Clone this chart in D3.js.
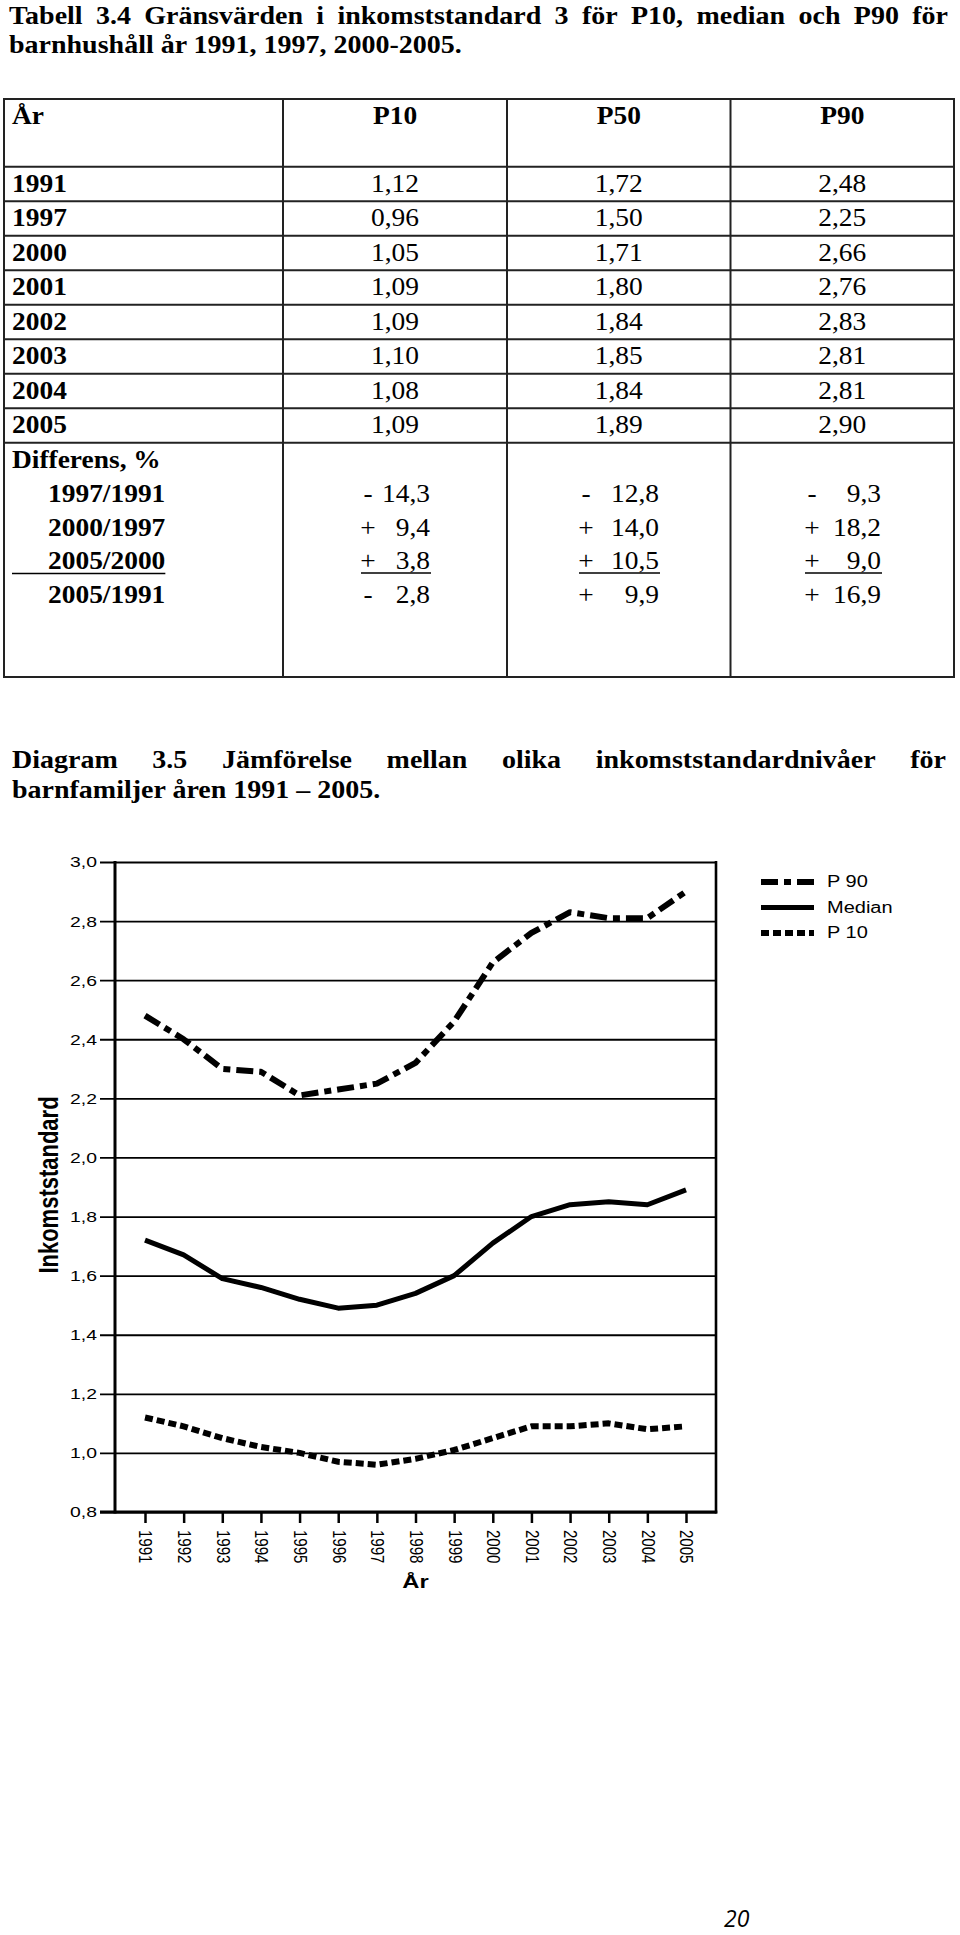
<!DOCTYPE html>
<html><head><meta charset="utf-8">
<script src="https://cdn.jsdelivr.net/npm/d3@7"></script>
<style>html,body{margin:0;padding:0;background:#fff}svg{display:block}</style>
</head><body>
<script>
// ---------- DATA ----------
const tableTitle1 = "Tabell 3.4 Gränsvärden i inkomststandard 3 för P10, median och P90 för";
const tableTitle2 = "barnhushåll år 1991, 1997, 2000-2005.";
const tableHeader = ["År", "P10", "P50", "P90"];
const tableYears = ["1991", "1997", "2000", "2001", "2002", "2003", "2004", "2005"];
const tableP10 = [1.12, 0.96, 1.05, 1.09, 1.09, 1.10, 1.08, 1.09];
const tableP50 = [1.72, 1.50, 1.71, 1.80, 1.84, 1.85, 1.84, 1.89];
const tableP90 = [2.48, 2.25, 2.66, 2.76, 2.83, 2.81, 2.81, 2.90];
const diffLabel = "Differens, %";
const diffPeriods = ["1997/1991", "2000/1997", "2005/2000", "2005/1991"];
const diffP10 = [-14.3, 9.4, 3.8, -2.8];
const diffP50 = [-12.8, 14.0, 10.5, 9.9];
const diffP90 = [-9.3, 18.2, 9.0, 16.9];

const chartTitle1 = "Diagram 3.5 Jämförelse mellan olika inkomststandardnivåer för";
const chartTitle2 = "barnfamiljer åren 1991 – 2005.";
const years = [1991, 1992, 1993, 1994, 1995, 1996, 1997, 1998, 1999, 2000, 2001, 2002, 2003, 2004, 2005];
const seriesP90 = [2.48, 2.40, 2.30, 2.29, 2.21, 2.23, 2.25, 2.32, 2.46, 2.66, 2.76, 2.83, 2.81, 2.81, 2.90];
const seriesMedian = [1.72, 1.67, 1.59, 1.56, 1.52, 1.49, 1.50, 1.54, 1.60, 1.71, 1.80, 1.84, 1.85, 1.84, 1.89];
const seriesP10 = [1.12, 1.09, 1.05, 1.02, 1.00, 0.97, 0.96, 0.98, 1.01, 1.05, 1.09, 1.09, 1.10, 1.08, 1.09];
const yTicks = [0.8, 1.0, 1.2, 1.4, 1.6, 1.8, 2.0, 2.2, 2.4, 2.6, 2.8, 3.0];
const legendLabels = ["P 90", "Median", "P 10"];
const yTitle = "Inkomststandard";
const xTitle = "År";
const pageNumber = "20";

// ---------- SETUP ----------
const W = 960, H = 1935;
const SERIF = "'Liberation Serif','Times New Roman',serif";
const SANS = "'Liberation Sans',Arial,sans-serif";
const SX_SERIF = 1.12, SX_SANS = 1.25;
const svg = d3.select("body").append("svg").attr("width", W).attr("height", H);

function addText(parent, x, y, str, o = {}) {
  const sx = o.sx || 1;
  const t = parent.append("text")
    .attr("transform", `translate(${x},${y}) scale(${sx},1)` + (o.rotate ? ` rotate(${o.rotate})` : ""))
    .attr("font-family", o.family || SERIF)
    .attr("font-size", o.size || 24)
    .attr("font-weight", o.weight || "normal")
    .attr("font-style", o.style || "normal")
    .attr("text-anchor", o.anchor || "start")
    .attr("fill", "#000");
  if (o.baseline) t.attr("dominant-baseline", o.baseline);
  t.text(str);
  return t;
}
function justify(parent, str, x0, x1, y, o) {
  const words = str.split(" ");
  const nodes = words.map(w => addText(parent, 0, y, w, o));
  const widths = nodes.map(n => n.node().getComputedTextLength() * o.sx);
  const gap = (x1 - x0 - d3.sum(widths)) / (words.length - 1);
  let x = x0;
  nodes.forEach((n, i) => { n.attr("transform", `translate(${x},${y}) scale(${o.sx},1)`); x += widths[i] + gap; });
}
const fmt2 = v => d3.format(".2f")(v).replace(".", ",");
const fmt1 = v => d3.format(".1f")(Math.abs(v)).replace(".", ",");

// ---------- TABLE TITLE ----------
const titleOpt = { family: SERIF, size: 25, weight: "bold", sx: SX_SERIF };
justify(svg, tableTitle1, 9, 948, 24, titleOpt);
addText(svg, 9, 53, tableTitle2, titleOpt);

// ---------- TABLE ----------
const tbl = svg.append("g");
const colEdges = [4, 283, 507, 730.5, 954];
const tableTop = 99, headBottom = 166.7, rowH = 34.5, tableBottom = 677;
const rowY = d3.scaleLinear().domain([0, tableYears.length]).range([headBottom, headBottom + rowH * tableYears.length]);
const colCenter = i => (colEdges[i] + colEdges[i + 1]) / 2;

const hLines = [tableTop].concat(d3.range(tableYears.length + 1).map(i => rowY(i)), [tableBottom]);
tbl.selectAll("line.h").data(hLines).join("line")
  .attr("x1", colEdges[0]).attr("x2", colEdges[colEdges.length - 1])
  .attr("y1", d => d).attr("y2", d => d)
  .attr("stroke", "#222").attr("stroke-width", 2);
tbl.selectAll("line.v").data(colEdges).join("line")
  .attr("x1", d => d).attr("x2", d => d)
  .attr("y1", tableTop - 1).attr("y2", tableBottom + 1)
  .attr("stroke", "#222").attr("stroke-width", 2);

const cellOpt = { family: SERIF, size: 24.5, sx: SX_SERIF };
const boldCell = Object.assign({}, cellOpt, { weight: "bold" });
tableHeader.forEach((h, i) => {
  if (i === 0) addText(tbl, 12, 124, h, boldCell);
  else addText(tbl, colCenter(i), 124, h, Object.assign({ anchor: "middle" }, boldCell));
});
tableYears.forEach((y, r) => {
  const by = rowY(r) + 25;
  addText(tbl, 12, by, y, boldCell);
  [tableP10, tableP50, tableP90].forEach((arr, c) => {
    addText(tbl, colCenter(c + 1), by, fmt2(arr[r]), Object.assign({ anchor: "middle" }, cellOpt));
  });
});
// Differens block
addText(tbl, 12, 468, diffLabel, boldCell);
const diffBase = i => 502 + i * 33.5;
const signX = [368, 586, 812];
const numEnd = [430, 659, 881];
diffPeriods.forEach((p, i) => {
  const by = diffBase(i);
  const lab = addText(tbl, 48, by, p, boldCell);
  if (i === 2) {
    const lw = lab.node().getComputedTextLength() * SX_SERIF;
    tbl.append("line").attr("x1", 12).attr("x2", 48 + lw).attr("y1", by + 4.5).attr("y2", by + 4.5)
      .attr("stroke", "#000").attr("stroke-width", 1.6);
  }
  [diffP10, diffP50, diffP90].forEach((arr, c) => {
    const v = arr[i];
    addText(tbl, signX[c], by, v < 0 ? "-" : "+", Object.assign({ anchor: "middle" }, cellOpt));
    addText(tbl, numEnd[c], by, fmt1(v), Object.assign({ anchor: "end" }, cellOpt));
    if (i === 2) {
      tbl.append("line").attr("x1", signX[c] - 7).attr("x2", numEnd[c] + 1)
        .attr("y1", by + 4).attr("y2", by + 4).attr("stroke", "#000").attr("stroke-width", 1.6);
    }
  });
});

// ---------- CHART TITLE ----------
justify(svg, chartTitle1, 12, 946, 768, titleOpt);
addText(svg, 12, 798, chartTitle2, titleOpt);

// ---------- CHART ----------
const plotL = 115, plotR = 716, plotT = 862, plotB = 1512;
const x = d3.scaleLinear().domain([years[0], years[years.length - 1]]).range([145, 686]);
const y = d3.scaleLinear().domain([0.8, 3.0]).range([plotB, plotT]);
const chart = svg.append("g");

// grid + y axis labels (axis placed on the right border, ticks spanning to the left of the y axis)
const yAxis = chart.append("g").attr("transform", `translate(${plotR},0)`)
  .call(d3.axisLeft(y).tickValues(yTicks).tickSize(plotR - 100).tickPadding(3)
    .tickFormat(d => d3.format(".1f")(d).replace(".", ",")));
yAxis.select(".domain").remove();
yAxis.selectAll(".tick line").attr("stroke", "#000").attr("stroke-width", 1.8);
yAxis.selectAll(".tick text")
  .attr("x", null)
  .attr("transform", `translate(${-(plotR - 100) - 3},0) scale(${SX_SANS},1)`)
  .attr("font-family", SANS).attr("font-size", 15.5).attr("fill", "#000");

// x axis ticks + labels
const xAxis = chart.append("g").attr("transform", `translate(0,${plotB})`)
  .call(d3.axisBottom(x).tickValues(years).tickSize(11).tickFormat(d => String(d)));
xAxis.select(".domain").remove();
xAxis.selectAll(".tick line").attr("stroke", "#000").attr("stroke-width", 2.5);
xAxis.selectAll(".tick text")
  .attr("y", null).attr("dy", null)
  .attr("transform", `translate(0,18) scale(${SX_SANS},1) rotate(90)`)
  .attr("text-anchor", "start").attr("dominant-baseline", "central")
  .attr("font-family", SANS).attr("font-size", 15).attr("fill", "#000");

// frame
chart.append("line").attr("x1", plotL).attr("x2", plotL).attr("y1", plotT - 1).attr("y2", plotB + 1.5)
  .attr("stroke", "#000").attr("stroke-width", 3);
chart.append("line").attr("x1", plotR).attr("x2", plotR).attr("y1", plotT - 1).attr("y2", plotB + 1.5)
  .attr("stroke", "#000").attr("stroke-width", 2.6);
chart.append("line").attr("x1", 100).attr("x2", plotR + 1.3).attr("y1", plotB).attr("y2", plotB)
  .attr("stroke", "#000").attr("stroke-width", 3);

// series
const seriesDefs = [
  { name: legendLabels[0], values: seriesP90, dash: "17,6,7,6", width: 6 },
  { name: legendLabels[1], values: seriesMedian, dash: null, width: 5 },
  { name: legendLabels[2], values: seriesP10, dash: "8,4", width: 6 }
];
const line = d3.line().x((d, i) => x(years[i])).y(d => y(d)).curve(d3.curveLinear);
seriesDefs.forEach(s => {
  chart.append("path").datum(s.values).attr("d", line)
    .attr("fill", "none").attr("stroke", "#000").attr("stroke-width", s.width)
    .attr("stroke-linejoin", "round").attr("stroke-dasharray", s.dash);
});

// legend
const legY = d3.scaleLinear().domain([0, 1]).range([882, 907.5]);
seriesDefs.forEach((s, i) => {
  const ly = legY(i);
  chart.append("line").attr("x1", 761).attr("x2", 814).attr("y1", ly).attr("y2", ly)
    .attr("stroke", "#000").attr("stroke-width", s.width).attr("stroke-dasharray", s.dash);
  addText(chart, 827, ly, s.name, { family: SANS, size: 16, sx: SX_SANS, baseline: "central" });
});

// axis titles
addText(chart, 48, 1185, yTitle, { family: SANS, size: 22, weight: "bold", sx: SX_SANS, rotate: -90, anchor: "middle", baseline: "central" });
addText(chart, (plotL + plotR) / 2, 1588, xTitle, { family: SANS, size: 19, weight: "bold", sx: SX_SANS, anchor: "middle" });

// page number
addText(svg, 724, 1927, pageNumber, { family: "'Open Sans',sans-serif", size: 23, style: "italic", sx: 1 });
</script>
</body></html>
